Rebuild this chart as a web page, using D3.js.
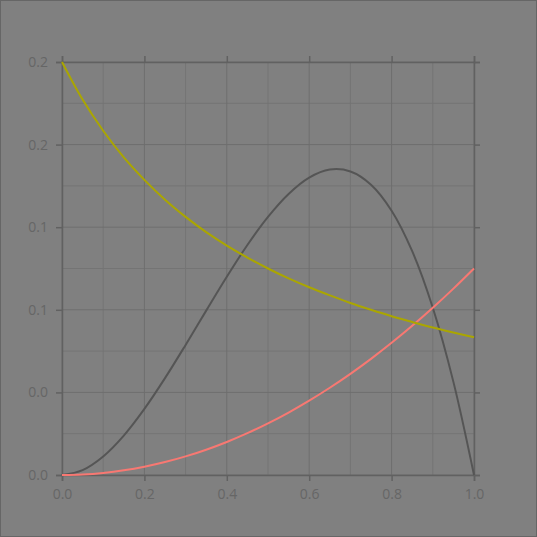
<!DOCTYPE html>
<html><head><meta charset="utf-8">
<script src="https://cdn.jsdelivr.net/npm/d3@7"></script>
<style>
html,body{margin:0;padding:0;background:#808080;}
svg{display:block;}
</style></head>
<body>
<script>
const xs = [0,0.05,0.1,0.15,0.2,0.25,0.3,0.35,0.4,0.45,0.5,0.55,0.6,0.65,0.7,0.75,0.8,0.85,0.9,0.95,1];
const yellowVals = [0.2,0.1818,0.1667,0.1538,0.1429,0.1333,0.125,0.1176,0.1111,0.1053,0.1,0.0952,0.0909,0.087,0.0833,0.08,0.0769,0.0741,0.0714,0.069,0.0667];
const grayVals = [0,0.0024,0.009,0.0191,0.032,0.0469,0.063,0.0796,0.096,0.1114,0.125,0.1361,0.144,0.1479,0.147,0.1406,0.128,0.1084,0.081,0.0451,0];
const redVals = [0,0.00025,0.001,0.00225,0.004,0.00625,0.009,0.01225,0.016,0.02025,0.025,0.03025,0.036,0.04225,0.049,0.05625,0.064,0.07225,0.081,0.09025,0.1];
const xTicks = [0,0.2,0.4,0.6,0.8,1.0];
const yTicks = [0,0.04,0.08,0.12,0.16,0.2];
const xMinor = [0.1,0.3,0.5,0.7,0.9];
const yMinor = [0.02,0.06,0.1,0.14,0.18];

const W=537,H=537;
const svg=d3.select("body").append("svg").attr("width",W).attr("height",H);
svg.append("rect").attr("x",0.5).attr("y",0.5).attr("width",W-1).attr("height",H-1)
  .attr("fill","#808080").attr("stroke","#666").attr("stroke-width",1);

const L=62,R=474,T=62,B=475;
const x=d3.scaleLinear().domain([0,1]).range([L,R]);
const y=d3.scaleLinear().domain([0,0.2]).range([B,T]);

const g=svg.append("g");
// minor grid
g.selectAll(".mx").data(xMinor).join("line").attr("x1",d=>x(d)).attr("x2",d=>x(d)).attr("y1",T).attr("y2",B).attr("stroke","#747474").attr("stroke-width",1);
g.selectAll(".my").data(yMinor).join("line").attr("y1",d=>y(d)).attr("y2",d=>y(d)).attr("x1",L).attr("x2",R).attr("stroke","#747474").attr("stroke-width",1);
// major grid
g.selectAll(".Mx").data(xTicks).join("line").attr("x1",d=>x(d)).attr("x2",d=>x(d)).attr("y1",T).attr("y2",B).attr("stroke","#6e6e6e").attr("stroke-width",1);
g.selectAll(".My").data(yTicks).join("line").attr("y1",d=>y(d)).attr("y2",d=>y(d)).attr("x1",L).attr("x2",R).attr("stroke","#6e6e6e").attr("stroke-width",1);

const fmt=d3.format(".1f");
function styleAxis(sel,labels){
  sel.select(".domain").attr("stroke","#616161").attr("stroke-width",1.5);
  sel.selectAll(".tick line").attr("stroke","#616161").attr("stroke-width",1.5);
  sel.selectAll(".tick text").attr("fill","#666").attr("font-family","'Open Sans'").attr("font-size",14);
  if(!labels) sel.selectAll(".tick text").remove();
}
const ax=svg.append("g").attr("transform",`translate(0,${B})`).call(d3.axisBottom(x).tickValues(xTicks).tickFormat(fmt).tickSizeOuter(0).tickSize(6).tickPadding(8));
styleAxis(ax,true);
const ay=svg.append("g").attr("transform",`translate(${L},0)`).call(d3.axisLeft(y).tickValues(yTicks).tickFormat(fmt).tickSizeOuter(0).tickSize(6).tickPadding(8));
styleAxis(ay,true);
const at=svg.append("g").attr("transform",`translate(0,${T})`).call(d3.axisTop(x).tickValues(xTicks).tickSizeOuter(0).tickSize(6));
styleAxis(at,false);
const ar=svg.append("g").attr("transform",`translate(${R},0)`).call(d3.axisRight(y).tickValues(yTicks).tickSizeOuter(0).tickSize(6));
styleAxis(ar,false);

function draw(vals,color){
  const line=d3.line().x((d,i)=>x(xs[i])).y(d=>y(d)).curve(d3.curveCatmullRom);
  svg.append("path").datum(vals).attr("d",line).attr("fill","none").attr("stroke",color).attr("stroke-width",2);
}
draw(grayVals,"#555555");
draw(redVals,"#f87872");
draw(yellowVals,"#aaa600");
</script>
</body></html>
